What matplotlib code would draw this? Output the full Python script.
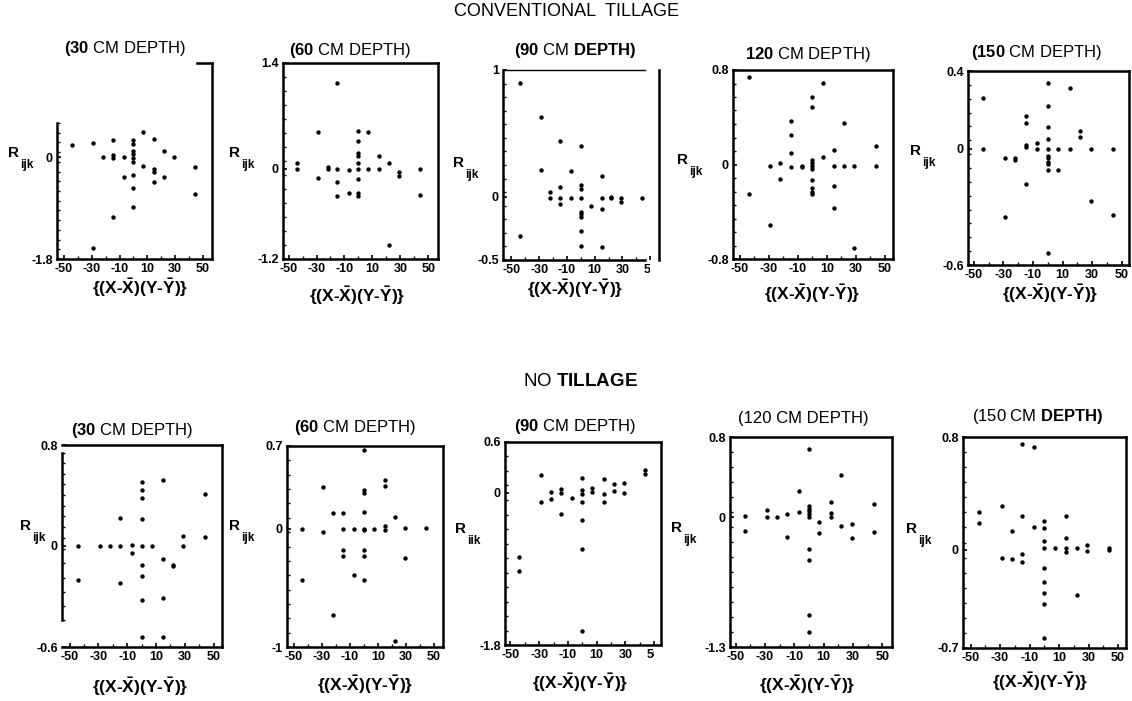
import numpy as np
import matplotlib
matplotlib.use("Agg")
import matplotlib.pyplot as plt
from matplotlib.ticker import FixedLocator
from matplotlib.transforms import Bbox, TransformedBbox, blended_transform_factory

plt.rcParams["font.family"] = ["Liberation Sans", "DejaVu Sans"]
plt.rcParams["mathtext.fontset"] = "custom"
plt.rcParams["mathtext.rm"] = "Liberation Sans"
plt.rcParams["mathtext.bf"] = "Liberation Sans:bold"
plt.rcParams["mathtext.it"] = "Liberation Sans:italic"

W, H = 1132, 701

# lag product {(X-Xbar)(Y-Ybar)} vs. R_ijk, conventional tillage
ct30_x = [-44, -29, -29, -22, -15, -15, -15, -15, -7, -7,
          0, 0, 0, 0, 0, 0, 0, 0, 0,
          7, 7, 15, 15, 15, 15, 22, 22, 29, 44, 44]
ct30_y = [0.22, 0.25, -1.61, 0.00, 0.30, 0.03, -0.01, -1.05, 0.00, -0.35,
          0.30, 0.23, 0.11, 0.05, -0.01, -0.09, -0.31, -0.54, -0.89,
          0.44, -0.15, 0.32, -0.22, -0.26, -0.44, 0.11, -0.35, 0.00, -0.18, -0.66]

ct60_x = [-44, -44, -29, -29, -22, -22, -15, -15, -15, -15, -7, -7,
          0, 0, 0, 0, 0, 0, 0, 0, 0,
          7, 7, 15, 15, 22, 22, 29, 29, 44, 44]
ct60_y = [0.07, -0.01, 0.49, -0.13, 0.02, -0.01, 1.13, -0.01, -0.18, -0.36, -0.02, -0.32,
          0.50, 0.37, 0.20, 0.16, 0.07, -0.01, -0.14, -0.32, -0.37,
          0.48, -0.01, 0.16, -0.01, 0.07, -1.02, -0.05, -0.10, -0.01, -0.35]

ct90_x = [-44, -44, -29, -29, -22, -22, -15, -15, -15, -15, -7, -7,
          0, 0, 0, 0, 0, 0, 0, 0, 0,
          7, 15, 15, 15, 15, 22, 22, 29, 29, 44]
ct90_y = [0.90, -0.31, 0.63, 0.21, 0.04, -0.01, 0.44, 0.08, -0.01, -0.06, 0.20, -0.01,
          0.40, 0.09, 0.06, -0.01, -0.12, -0.14, -0.16, -0.27, -0.39,
          -0.07, 0.16, -0.01, -0.10, -0.40, 0.00, -0.01, -0.01, -0.04, -0.01]

ct120_x = [-44, -44, -29, -29, -22, -22, -15, -15, -15, -15, -7, -7,
           0, 0, 0, 0, 0, 0, 0, 0, 0, 0,
           7, 7, 15, 15, 15, 15, 22, 22, 29, 29, 44, 44]
ct120_y = [0.74, -0.25, -0.01, -0.51, 0.01, -0.12, 0.37, 0.25, 0.10, -0.02, -0.01, -0.02,
           0.57, 0.49, 0.04, 0.01, -0.01, -0.04, -0.13, -0.20, -0.23, -0.25,
           0.69, 0.06, 0.12, -0.01, -0.18, -0.37, 0.35, -0.01, -0.01, -0.71, 0.16, -0.01]

ct150_x = [-44, -44, -29, -29, -22, -22, -15, -15, -15, -15, -15, -7, -7,
           0, 0, 0, 0, 0, 0, 0, 0, 0, 0, 0,
           7, 7, 15, 15, 22, 22, 29, 29, 44, 44]
ct150_y = [0.26, 0.00, -0.05, -0.35, -0.05, -0.06, 0.17, 0.13, 0.02, 0.01, -0.18, 0.03, 0.00,
           0.34, 0.22, 0.11, 0.05, 0.00, -0.04, -0.05, -0.07, -0.08, -0.11, -0.54,
           0.00, -0.11, 0.31, 0.00, 0.09, 0.06, 0.00, -0.27, 0.00, -0.34]

# no tillage
nt30_x = [-44, -44, -29, -22, -15, -15, -15, -7, -7,
          0, 0, 0, 0, 0, 0, 0, 0, 0,
          7, 15, 15, 15, 15, 22, 22, 29, 29, 44, 44]
nt30_y = [0.00, -0.20, 0.00, 0.00, 0.22, 0.00, -0.22, 0.01, -0.04,
          0.51, 0.44, 0.38, 0.21, 0.00, -0.11, -0.18, -0.32, -0.54,
          0.00, 0.52, -0.08, -0.31, -0.54, -0.11, -0.12, 0.08, 0.00, 0.41, 0.07]

nt60_x = [-44, -44, -29, -29, -22, -22, -15, -15, -15, -15, -7, -7,
          0, 0, 0, 0, 0, 0, 0, 0, 0,
          7, 15, 15, 15, 15, 22, 22, 29, 29, 44]
nt60_y = [0.00, -0.43, 0.35, -0.03, 0.13, -0.73, 0.13, 0.00, -0.18, -0.23, 0.00, -0.39,
          0.67, 0.33, 0.30, 0.14, 0.00, -0.01, -0.18, -0.23, -0.43,
          0.00, 0.41, 0.36, 0.02, -0.01, 0.10, -0.95, 0.01, -0.25, 0.01]

nt90_x = [-44, -44, -29, -29, -22, -22, -15, -15, -15, -7,
          0, 0, 0, 0, 0, 0, 0,
          7, 7, 15, 15, 15, 22, 22, 29, 29, 44, 44]
nt90_y = [-0.76, -0.93, 0.21, -0.11, 0.01, -0.07, 0.05, 0.00, -0.25, -0.06,
          0.18, 0.03, -0.01, -0.11, -0.32, -0.66, -1.64,
          0.06, 0.01, 0.16, -0.02, -0.11, 0.10, 0.02, 0.11, 0.00, 0.27, 0.22]

nt120_x = [-44, -44, -29, -29, -22, -15, -15, -7, -7,
           0, 0, 0, 0, 0, 0, 0, 0, 0, 0,
           7, 7, 15, 15, 15, 22, 22, 29, 29, 44, 44]
nt120_y = [0.01, -0.14, 0.07, 0.00, 0.00, 0.03, -0.20, 0.26, 0.05,
           0.68, 0.11, 0.08, 0.06, 0.03, 0.00, -0.32, -0.43, -0.98, -1.15,
           -0.05, -0.16, 0.15, 0.04, 0.00, 0.42, -0.09, -0.07, -0.21, 0.13, -0.15]

nt150_x = [-44, -44, -29, -29, -22, -22, -15, -15, -15, -15, -7, -7,
           0, 0, 0, 0, 0, 0, 0, 0, 0,
           7, 15, 15, 15, 15, 22, 22, 29, 29, 44, 44]
nt150_y = [0.27, 0.19, 0.31, -0.06, 0.13, -0.07, 0.75, 0.24, -0.03, -0.09, 0.73, 0.16,
           0.20, 0.15, 0.06, 0.01, -0.13, -0.23, -0.31, -0.39, -0.63,
           0.01, 0.24, 0.08, 0.01, -0.02, 0.01, -0.32, 0.03, -0.01, 0.01, 0.00]

x_ticks = [-50, -30, -10, 10, 30, 50]
x_tick_labels = ["-50", "-30", "-10", "10", "30", "50"]
x_label = r"$\mathbf{\{(X}$-$\mathbf{\bar{X})(Y}$-$\mathbf{\bar{Y})\}}$"

# panel layout in pixels: box = (left, top, right, bottom)
panels = [
    dict(x=ct30_x, y=ct30_y, title=r"$\mathbf{(30}$ CM DEPTH)", title_xy=(125, 48),
         box=(57, 63, 212, 259), xlim=(-55, 56.5), ylim=(-1.8, 1.66), yticks=[-1.8, 0],
         ybounds=(-1.8, 0.6), topbounds=(45.8, 56.5), sub="ijk", r_xy=(8, 157),
         xl_xy=(140, 288)),
    dict(x=ct60_x, y=ct60_y, title=r"$\mathbf{(60}$ CM DEPTH)", title_xy=(350, 51),
         box=(283, 63, 438, 259), xlim=(-54, 57), ylim=(-1.2, 1.4), yticks=[-1.2, 0, 1.4],
         sub="ijk", r_xy=(229, 157), xl_xy=(357, 296)),
    dict(x=ct90_x, y=ct90_y, title=r"$\mathbf{(90}$ CM $\mathbf{DEPTH)}$", title_xy=(575, 50),
         box=(503, 70, 659, 260), xlim=(-56, 56.3), ylim=(-0.5, 1.0), yticks=[-0.5, 0, 1],
         xbounds=(-56, 46.3), clip_x=50, sub="ijk", r_xy=(453, 167), xl_xy=(575, 289)),
    dict(x=ct120_x, y=ct120_y, title=r"$\mathbf{120}$ CM DEPTH)", title_xy=(808, 55),
         box=(733, 70, 893, 259), xlim=(-54.7, 55.6), ylim=(-0.8, 0.8), yticks=[-0.8, 0, 0.8],
         sub="ijk", r_xy=(677, 164), xl_xy=(812, 294)),
    dict(x=ct150_x, y=ct150_y, title=r"$\mathbf{(150}$ CM DEPTH)", title_xy=(1037, 53),
         box=(968, 71, 1129, 265), xlim=(-54, 54.9), ylim=(-0.6, 0.4), yticks=[-0.6, 0, 0.4],
         sub="ijk", r_xy=(910, 155), xl_xy=(1050, 294)),
    dict(x=nt30_x, y=nt30_y, title=r"$\mathbf{(30}$ CM DEPTH)", title_xy=(132, 430),
         box=(62, 445, 222, 647), xlim=(-55.3, 55.8), ylim=(-0.6, 0.8), yticks=[-0.6, 0, 0.8],
         split=True, ybounds=(-0.44, 0.74), sub="ijk", r_xy=(20, 530), xl_xy=(140, 687)),
    dict(x=nt60_x, y=nt60_y, title=r"$\mathbf{(60}$ CM DEPTH)", title_xy=(355, 428),
         box=(287, 446, 443, 647), xlim=(-55, 56.4), ylim=(-1.0, 0.7), yticks=[-1, 0, 0.7],
         clip_x=54, sub="ijk", r_xy=(229, 530), xl_xy=(365, 685)),
    dict(x=nt90_x, y=nt90_y, title=r"$\mathbf{(90}$ CM DEPTH)", title_xy=(575, 427),
         box=(505, 442, 661, 645), xlim=(-53.8, 54.8), ylim=(-1.8, 0.6), yticks=[-1.8, 0, 0.6],
         clip_x=50, sub="iik", r_xy=(455, 533), xl_xy=(580, 683)),
    dict(x=nt120_x, y=nt120_y, title="(120 CM DEPTH)", title_xy=(803, 418),
         box=(730, 437, 892, 647), xlim=(-53.9, 56.6), ylim=(-1.3, 0.8), yticks=[-1.3, 0, 0.8],
         sub="ijk", r_xy=(671, 532), xl_xy=(807, 685)),
    dict(x=nt150_x, y=nt150_y, title=r"(150 CM $\mathbf{DEPTH)}$", title_xy=(1038, 417),
         box=(963, 437, 1126, 648), xlim=(-55.1, 55.4), ylim=(-0.7, 0.8), yticks=[-0.7, 0, 0.8],
         sub="ijk", r_xy=(906, 533), xl_xy=(1040, 682)),
]


def px(x, y):
    return x / W, 1 - y / H


def split_scale(lo, hi):
    """Axis whose zero sits halfway between unequal end labels."""
    def fwd(v):
        v = np.asarray(v, dtype=float)
        return np.where(v >= 0, v / hi, v / -lo)

    def inv(u):
        u = np.asarray(u, dtype=float)
        return np.where(u >= 0, u * hi, u * -lo)
    return fwd, inv


fig = plt.figure(figsize=(W / 100, H / 100), dpi=100)

for p in panels:
    l, t, r, b = p["box"]
    ax = fig.add_axes([l / W, 1 - b / H, (r - l) / W, (b - t) / H])
    if p.get("split"):
        ax.set_yscale("function", functions=split_scale(*p["ylim"]))
    ax.scatter(p["x"], p["y"], s=10, color="black", linewidths=0)
    ax.set_xlim(*p["xlim"])
    ax.set_ylim(*p["ylim"])

    ax.set_xticks(x_ticks)
    ax.set_xticklabels(x_tick_labels, fontweight="bold", fontsize=9)
    ax.xaxis.set_minor_locator(FixedLocator(np.arange(-50, 51, 10)))
    ax.set_yticks(p["yticks"])
    ax.set_yticklabels([f"{v:g}" for v in p["yticks"]], fontweight="bold", fontsize=9)
    ylo, yhi = p.get("ybounds", p["ylim"])
    ax.yaxis.set_minor_locator(FixedLocator(np.linspace(ylo, yhi, 15)))
    ax.tick_params(which="major", direction="in", length=3, width=1.2, pad=3,
                   top=False, right=False)
    ax.tick_params(which="minor", direction="in", length=2, width=1,
                   top=False, right=False)

    for s in ax.spines.values():
        s.set_linewidth(1.8)
    if "ybounds" in p:
        ax.spines["left"].set_bounds(*p["ybounds"])
    if "topbounds" in p:
        ax.spines["top"].set_bounds(*p["topbounds"])
    if "xbounds" in p:
        ax.spines["bottom"].set_bounds(*p["xbounds"])
        ax.spines["top"].set_bounds(*p["xbounds"])
        ax.spines["top"].set_linewidth(1.0)

    if "clip_x" in p:
        clip = TransformedBbox(Bbox([[p["xlim"][0] - 30, 0], [p["clip_x"], 1]]),
                               blended_transform_factory(ax.transData, fig.transFigure))
        for lbl in ax.get_xticklabels():
            lbl.set_clip_box(clip)
            lbl.set_clip_on(True)

    fig.text(*px(*p["title_xy"]), p["title"], ha="center", va="center", fontsize=12)
    rx, ry = p["r_xy"]
    fig.text(*px(rx, ry), "R", fontsize=11, fontweight="bold", ha="left", va="baseline")
    fig.text(*px(rx + 12, ry + 11), p["sub"], fontsize=8.5, fontweight="bold",
             ha="left", va="baseline")
    fig.text(*px(*p["xl_xy"]), x_label, fontsize=12.5, fontweight="bold",
             ha="center", va="center")

fig.text(*px(566, 12), "CONVENTIONAL  TILLAGE", ha="center", va="center", fontsize=13)
fig.text(*px(580, 381), r"NO $\mathbf{TILLAGE}$", ha="center", va="center", fontsize=13.5)

fig.savefig("out.png", dpi=100, facecolor="white")
